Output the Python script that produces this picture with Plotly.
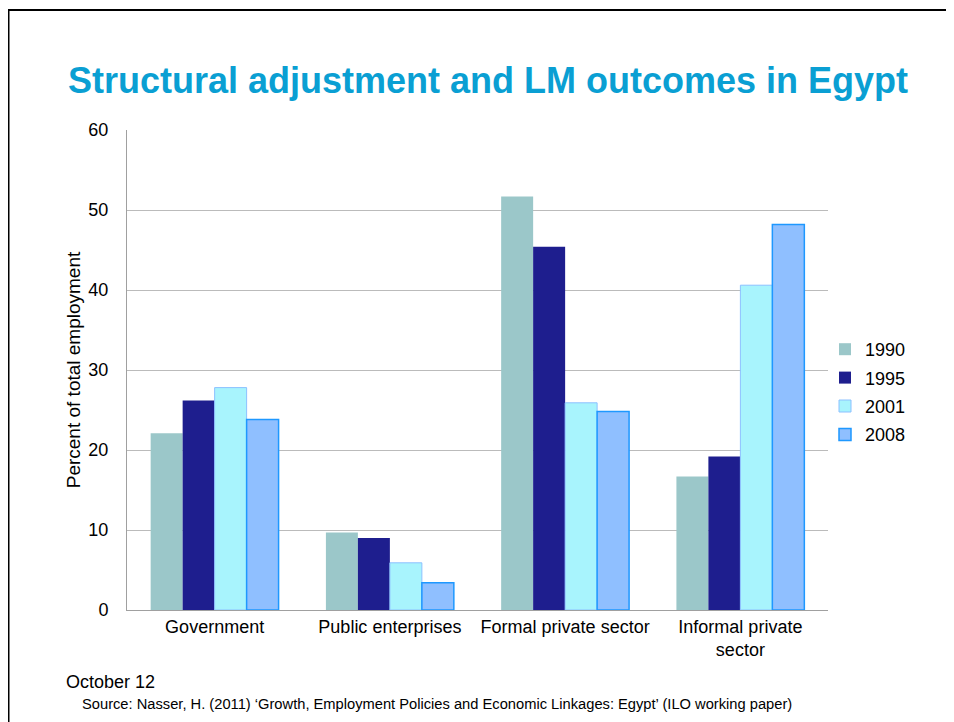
import plotly.graph_objects as go

categories = ["Government", "Public enterprises", "Formal private sector", "Informal private<br>sector"]
years = ["1990", "1995", "2001", "2008"]
v1990 = [22.1, 9.7, 51.7, 16.7]
v1995 = [26.2, 9.0, 45.4, 19.2]
v2001 = [27.8, 5.9, 25.9, 40.6]
v2008 = [23.8, 3.4, 24.8, 48.2]
y_ticks = [0, 10, 20, 30, 40, 50, 60]

series = [v1990, v1995, v2001, v2008]
fills = ["#9BC7C9", "#1E1E8E", "#A8F4FD", "#8FBFFF"]
lines = ["rgba(0,0,0,0)", "rgba(0,0,0,0)", "#8CC0FF", "#1E98FF"]
lwidth = [0, 0, 1, 1.5]

FONT = "Liberation Sans, Arial, sans-serif"

fig = go.Figure()
for name, vals, fc, lc, lw in zip(years, series, fills, lines, lwidth):
    fig.add_trace(go.Bar(
        x=categories, y=vals, name=name, legendgroup=name,
        marker=dict(color=fc, line=dict(color=lc, width=lw)),
    ))

OFF = 8  # page body margin
W, H = 954 - OFF, 722 - OFF
L, R, T, B = 127 - OFF, 828 - OFF, 130 - OFF, 610 - OFF

def px(xs):
    return (xs - OFF - L) / (R - L)

def py(ys):
    return (B - (ys - OFF)) / (B - T)

fig.update_layout(
    width=W, height=H, autosize=False,
    margin=dict(l=L, r=W - R, t=T, b=H - B),
    paper_bgcolor="white", plot_bgcolor="white",
    font=dict(family=FONT, color="black", size=18),
    barmode="group", bargap=0.27, bargroupgap=0,
    showlegend=True,
    title=dict(
        text="<b>Structural adjustment and LM outcomes in Egypt</b>",
        font=dict(family=FONT, size=36, color="#0A9FD3"),
        x=(68 - OFF) / W, xanchor="left", xref="container",
        y=1 - (80 - OFF) / H, yanchor="middle", yref="container",
    ),
    legend=dict(
        x=px(825), xanchor="left", y=py(392), yanchor="middle",
        font=dict(size=18), traceorder="grouped", tracegroupgap=2,
        bgcolor="rgba(0,0,0,0)",
    ),
    xaxis=dict(
        showgrid=False, showline=True, linecolor="#A0A0A0", linewidth=1,
        ticks="", tickfont=dict(size=18),
    ),
    yaxis=dict(
        range=[0, 60], tickvals=y_ticks, showgrid=True, gridcolor="#BBBBBB", gridwidth=1,
        showline=True, linecolor="#A0A0A0", linewidth=1, zeroline=False,
        ticks="", tickfont=dict(size=18), ticklabelstandoff=14,
        title=dict(text="Percent of total employment", font=dict(size=19), standoff=2),
    ),
    shapes=[
        dict(type="line", xref="paper", yref="paper", x0=px(8), x1=px(960), y0=py(10), y1=py(10),
             line=dict(color="black", width=2)),
        dict(type="line", xref="paper", yref="paper", x0=px(8.5), x1=px(8.5), y0=py(10), y1=py(730),
             line=dict(color="black", width=2)),
    ],
    annotations=[
        dict(text="October 12", xref="paper", yref="paper", x=px(64), y=py(682),
             xanchor="left", yanchor="middle", showarrow=False, font=dict(size=18)),
        dict(text="Source: Nasser, H. (2011) ‘Growth, Employment Policies and Economic Linkages: Egypt’ (ILO working paper)",
             xref="paper", yref="paper", x=px(80), y=py(704),
             xanchor="left", yanchor="middle", showarrow=False, font=dict(size=14.7)),
    ],
)

fig.write_html("out.html")
